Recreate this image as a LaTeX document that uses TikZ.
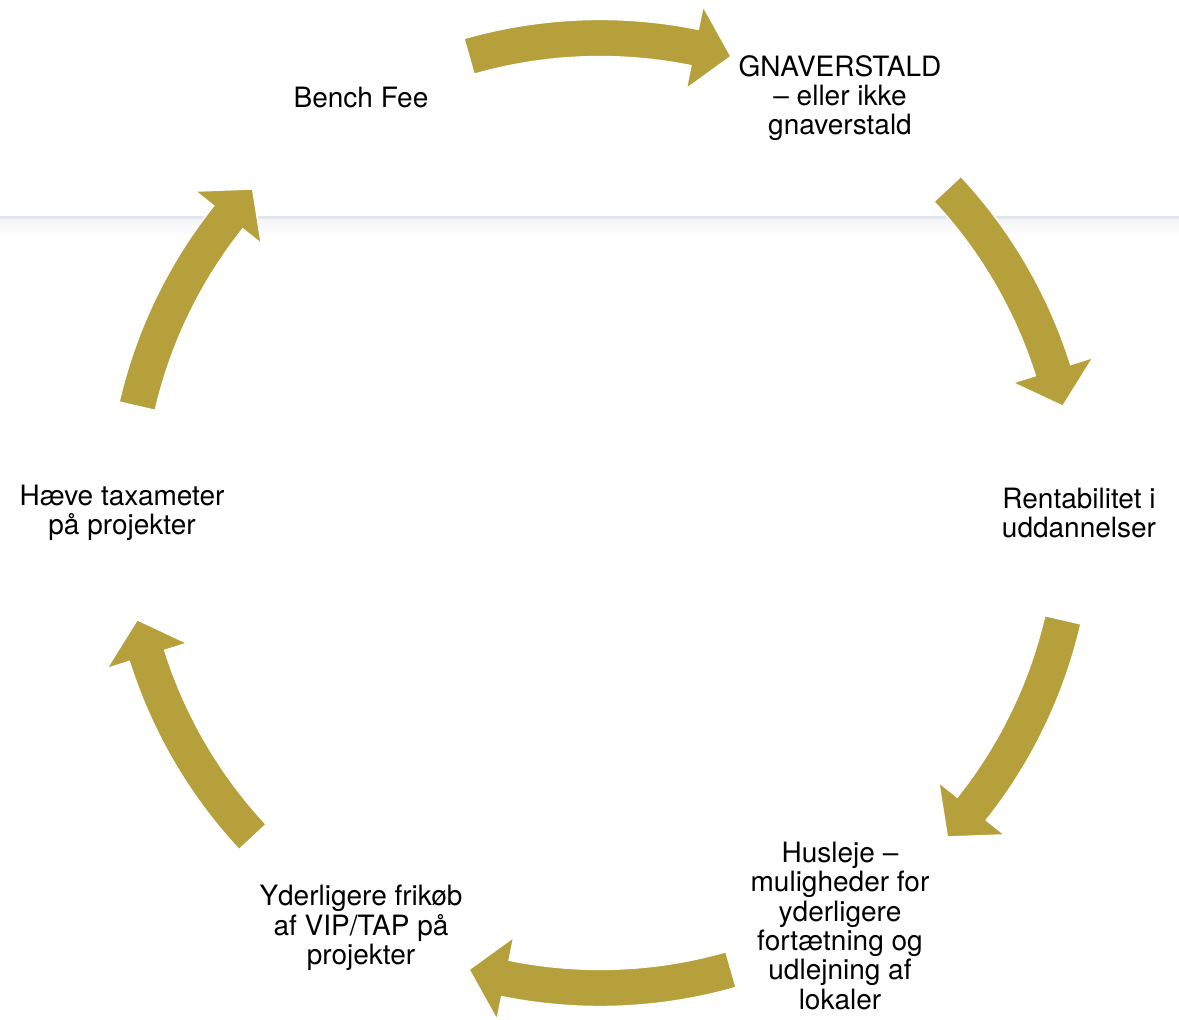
\documentclass[tikz,border=0pt]{standalone}
\usepackage{fontspec}
\setmainfont{TeX Gyre Heros}
\definecolor{gold}{RGB}{182,160,60}
\definecolor{rulec}{RGB}{226,229,238}
\definecolor{shadec}{RGB}{243,244,247}
\begin{document}
\begin{tikzpicture}[x=0.75pt,y=0.75pt,
  lbl/.style={align=center,font=\fontsize{21}{22}\selectfont,inner sep=0pt},
  blockarrow/.style={fill=gold,draw=white,line width=1pt}]
\useasboundingbox (0,0) rectangle (1179,1020);
\fill[white] (0,0) rectangle (1179,1020);
% divider line with soft shadow
\shade[top color=shadec,bottom color=white] (0,1020-218) rectangle (1179,1020-236);
\fill[rulec] (0,1020-216) rectangle (1179,1020-219);
% curved block arrows (tail angle / tip angle)
\begin{scope}[shift={(600,507)}]
\foreach \ta/\tp in {106/74, 43/13, -13/-43, -74/-106, -137/-167, 167/137}{
  \pgfmathsetmacro{\hb}{\tp+4.5}
  \draw[blockarrow] (\ta:493.5) arc[start angle=\ta,end angle=\hb,radius=493.5]
    -- (\hb:517) -- (\tp:475) -- (\hb:433) -- (\hb:456.5)
    arc[start angle=\hb,end angle=\ta,radius=456.5] -- cycle;
}
\end{scope}
% labels
\node[lbl] (bench) at (361,1020-98) {Bench Fee};
\node[lbl] (gnav) at (840,1020-98) {GNAVERSTALD\\– eller ikke\\gnaverstald};
\node[lbl] (rent) at (1079,1020-513) {Rentabilitet i\\uddannelser};
\node[lbl] (hus) at (840,1020-926) {Husleje –\\muligheder for\\yderligere\\fortætning og\\udlejning af\\lokaler};
\node[lbl] (yder) at (361,1020-928) {Yderligere frikøb\\af VIP/TAP på\\projekter};
\node[lbl] (haeve) at (122,1020-513) {Hæve taxameter\\på projekter};
\end{tikzpicture}
\end{document}
